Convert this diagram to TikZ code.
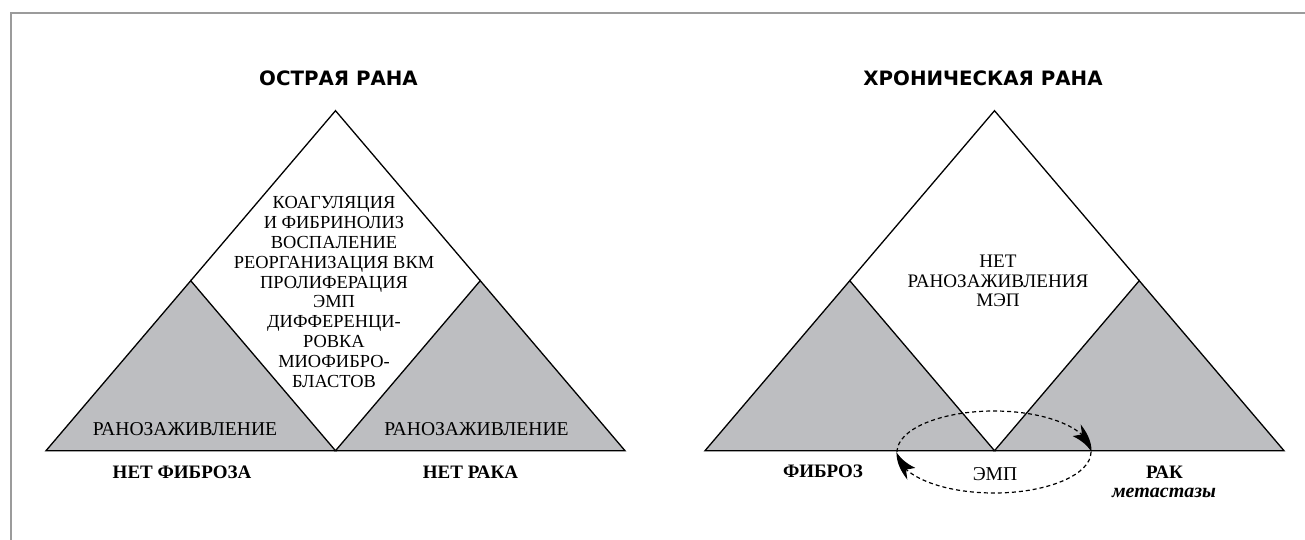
\documentclass[tikz,border=0pt]{standalone}
\usepackage{fontspec}
\setmainfont{Liberation Serif}
\newfontfamily\headfont{DejaVu Sans}
\usetikzlibrary{arrows.meta, bending}

\definecolor{woundgray}{RGB}{189,190,193}
\definecolor{framegray}{RGB}{155,155,155}

\tikzset{
    wedge/.style={draw, line width=0.65pt, fill=woundgray},
    rim/.style={draw, line width=0.65pt},
    heading/.style={font=\headfont\bfseries\fontsize{9.9}{12}\selectfont, anchor=base},
    stages/.style={align=center, inner sep=0, font=\fontsize{9.2}{9.95}\selectfont},
    healing/.style={anchor=base, font=\fontsize{9.8}{11}\selectfont},
    outcome/.style={anchor=base, font=\bfseries\fontsize{9.5}{11}\selectfont},
    emtloop/.style={dashed, dash pattern=on 2pt off 1.5pt, line width=0.6pt,
        -{Stealth[length=12pt, width=7pt, inset=2.5pt, bend]}},
}

\begin{document}
\begin{tikzpicture}[x=0.5pt, y=-0.5pt]

    \useasboundingbox (0,0) rectangle (1305,540);

    % Frame
    \draw[framegray, line width=1pt] (10.7,540) -- (10.7,13.3) -- (1305,13.3);

    %% Acute wound

    % Corners
    \coordinate (AL) at (46,450.7);
    \coordinate (AR) at (625,450.7);
    \coordinate (AM) at (335.5,450.7);
    \coordinate (AT) at (335.5,110.7);
    \coordinate (Al) at (190.75,280.7);
    \coordinate (Ar) at (480.25,280.7);

    \draw[wedge] (AL) -- (Al) -- (AM) -- cycle;
    \draw[wedge] (AM) -- (Ar) -- (AR) -- cycle;
    \draw[rim] (Al) -- (AT) -- (Ar);

    % Texts
    \node[heading] (acute) at (338.5,86) {ОСТРАЯ РАНА};
    \node[stages] (steps) at (334,292) {КОАГУЛЯЦИЯ\\И ФИБРИНОЛИЗ\\ВОСПАЛЕНИЕ\\
        РЕОРГАНИЗАЦИЯ ВКМ\\ПРОЛИФЕРАЦИЯ\\ЭМП\\ДИФФЕРЕНЦИ-\\РОВКА\\МИОФИБРО-\\БЛАСТОВ};
    \node[healing] (healL) at (185,435) {РАНОЗАЖИВЛЕНИЕ};
    \node[healing] (healR) at (476.5,435) {РАНОЗАЖИВЛЕНИЕ};
    \node[outcome] (nofib) at (182,478.5) {НЕТ ФИБРОЗА};
    \node[outcome] (nocan) at (470.5,478.5) {НЕТ РАКА};

    %% Chronic wound

    % Corners
    \coordinate (CL) at (705,450.7);
    \coordinate (CR) at (1284,450.7);
    \coordinate (CM) at (994.5,450.7);
    \coordinate (CT) at (994.5,110.7);
    \coordinate (Cl) at (849.75,280.7);
    \coordinate (Cr) at (1139.25,280.7);

    \draw[wedge] (CL) -- (Cl) -- (CM) -- cycle;
    \draw[wedge] (CM) -- (Cr) -- (CR) -- cycle;
    \draw[rim] (Cl) -- (CT) -- (Cr);

    % Texts
    \node[heading] (chronic) at (983,86) {ХРОНИЧЕСКАЯ РАНА};
    \node[stages, font=\fontsize{9.55}{9.8}\selectfont] (nohealing) at (998,281) {НЕТ\\РАНОЗАЖИВЛЕНИЯ\\МЭП};
    \node[outcome] (fib) at (823,477.7) {ФИБРОЗ};
    \node[healing] (emt) at (995,480) {ЭМП};
    \node[outcome] (can) at (1164.5,478.3) {РАК};
    \node[anchor=base, font=\bfseries\itshape\fontsize{10}{11}\selectfont] (meta) at (1164,497.3) {метастазы};

    % EMT loop
    \coordinate (E) at (994,452);
    \draw[emtloop] (E) ++(-97,0) arc[start angle=180, end angle=360, x radius=97, y radius=41];
    \draw[emtloop] (E) ++(97,0) arc[start angle=0, end angle=180, x radius=97, y radius=41];

\end{tikzpicture}
\end{document}
